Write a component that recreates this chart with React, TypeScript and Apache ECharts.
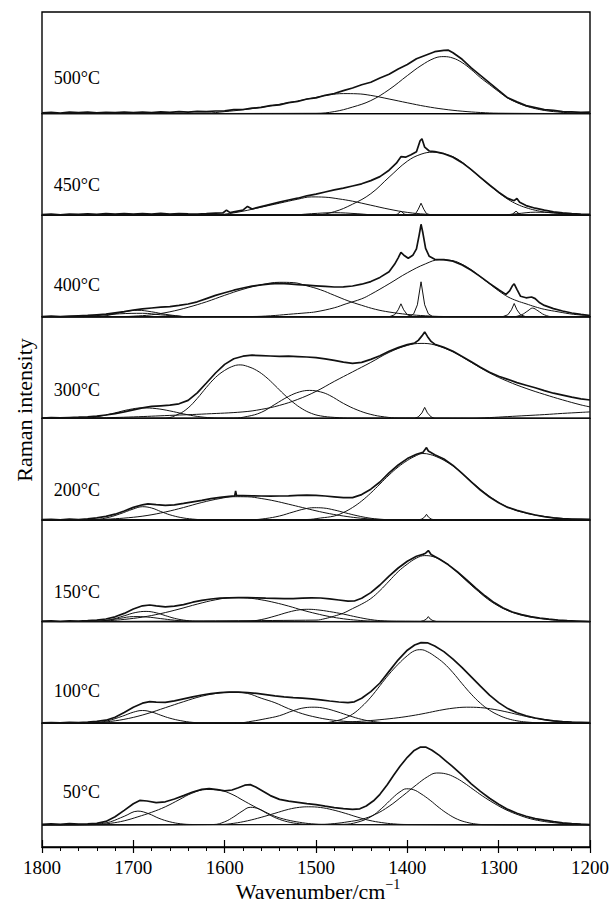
import React, { useEffect, useRef } from "react";
import * as echarts from "echarts";

type Pt = [number, number];

const FONT = "'Liberation Serif', 'Times New Roman', Times, serif";

const panelLabels = ["500°C", "450°C", "400°C", "300°C", "200°C", "150°C", "100°C", "50°C"];
const labelLift = [36, 30, 32, 28, 30, 30, 32, 33];
const xAxisTitle = "Wavenumber/cm";
const xAxisTitleSup = "\u22121";
const yAxisTitle = "Raman intensity";
const waveMin = 1200;
const waveMax = 1800;
const waveStep = 100;

// ---------- 500 °C ----------
const env500: Pt[] = [[1800,0.8],[1790,1.2],[1780,0.6],[1770,1.4],[1760,0.9],[1750,1.5],[1740,0.7],[1730,1.3],[1720,1.0],[1710,1.6],[1700,0.9],[1690,1.4],[1680,1.1],[1670,1.8],[1660,1.2],[1650,1.9],[1640,1.5],[1630,2.2],[1620,1.9],[1610,2.6],[1600,2.8],[1590,3.9],[1580,4.1],[1570,5.4],[1560,6.2],[1550,7.9],[1540,8.8],[1530,10.9],[1520,12.1],[1510,14.6],[1500,15.7],[1490,18.3],[1480,20.1],[1470,23.0],[1460,25.6],[1450,28.8],[1440,31.3],[1430,35.6],[1420,39.3],[1410,44.7],[1400,49.1],[1390,54.9],[1380,58.4],[1370,61.9],[1360,63.3],[1355,63.4],[1350,60.8],[1340,54.3],[1330,45.7],[1320,38.3],[1310,30.7],[1300,23.2],[1290,15.8],[1280,11.7],[1270,8.0],[1260,6.0],[1250,4.0],[1240,3.2],[1230,2.0],[1220,1.8],[1210,1.2],[1200,1.4]];
const c500a: Pt[] = [[1500,0.3],[1480,2],[1460,6.5],[1440,13],[1420,24],[1400,38],[1385,48],[1370,55.5],[1360,57],[1350,55.5],[1340,51],[1330,44],[1320,36],[1310,29],[1300,22],[1290,15.5],[1280,11],[1270,7.5],[1260,5],[1250,3.2],[1240,2],[1225,1],[1210,0.4],[1200,0.2]];
const c500b: Pt[] = [[1620,0.5],[1600,2],[1580,3.8],[1560,6.3],[1540,9.3],[1520,12.7],[1500,16.2],[1485,18.8],[1470,20],[1455,19.8],[1440,18.2],[1420,14.6],[1400,10.8],[1380,7.2],[1360,4.4],[1340,2.4],[1320,1.1],[1300,0.4]];

// ---------- 450 °C ----------
const env450: Pt[] = [[1800,0.6],[1790,1.0],[1780,0.4],[1770,1.2],[1760,0.8],[1750,1.3],[1740,0.9],[1730,1.6],[1720,1.1],[1710,1.7],[1700,1.0],[1690,1.5],[1680,1.2],[1670,1.9],[1660,1.0],[1650,1.6],[1640,1.3],[1630,1.1],[1620,1.5],[1610,2.0],[1602,2.2],[1598,5.0],[1594,2.6],[1590,3.4],[1580,5.0],[1575,8.8],[1570,6.2],[1560,8.6],[1550,10.8],[1540,13.0],[1530,15.2],[1520,17.0],[1510,19.4],[1500,21.0],[1490,23.2],[1480,25.4],[1470,27.0],[1460,29.2],[1450,31.4],[1440,34.6],[1430,38.6],[1420,45.0],[1412,52.0],[1407,58.5],[1402,58.0],[1396,60.5],[1390,63.5],[1386,74.5],[1384,76.5],[1381,68.0],[1376,64.2],[1370,63.6],[1360,61.5],[1350,58.0],[1340,52.5],[1330,45.5],[1320,37.8],[1310,30.2],[1300,23.0],[1290,16.8],[1283,14.5],[1280,16.8],[1277,13.0],[1270,9.6],[1260,7.0],[1250,5.0],[1240,3.4],[1230,2.4],[1220,1.6],[1210,1.0],[1200,0.8]];
const c450a: Pt[] = [[1500,0.5],[1480,3.5],[1460,11],[1440,21.5],[1420,38],[1400,54],[1385,61],[1372,63],[1360,61.5],[1350,58.5],[1340,53],[1330,45.5],[1320,37.5],[1310,30],[1300,22.5],[1290,16],[1280,11],[1270,7.5],[1260,5],[1250,3.2],[1240,2.2],[1225,1.2],[1210,0.5],[1200,0.3]];
const c450b: Pt[] = [[1610,0.3],[1600,1],[1580,4],[1560,8],[1540,12],[1520,16],[1505,18.3],[1490,18],[1475,16.3],[1460,14],[1440,10],[1420,6],[1400,2.8],[1380,1],[1360,0.3]];
const c450c: Pt[] = [[1396,0],[1391,1.5],[1388,6],[1385,12],[1382,6],[1379,1.5],[1374,0]];
const c450d: Pt[] = [[1415,0],[1411,1],[1407,4],[1403,1],[1399,0]];
const c450e: Pt[] = [[1290,0],[1285,1],[1281,4],[1277,1],[1272,0]];
const c450f: Pt[] = [[1530,0],[1505,1.5],[1480,2.5],[1455,1.5],[1430,0]];
const c450g: Pt[] = [[1300,0],[1280,1.5],[1260,3],[1240,2.5],[1220,1],[1205,0]];

// ---------- 400 °C ----------
const env400: Pt[] = [[1800,0.3],[1790,0.8],[1780,0.2],[1770,0.6],[1760,1.0],[1750,1.4],[1740,2.0],[1730,2.6],[1720,4.0],[1710,5.2],[1700,6.8],[1690,8.0],[1680,8.8],[1670,9.6],[1660,10.2],[1650,11.4],[1640,12.8],[1630,15.0],[1620,18.2],[1610,21.4],[1600,24.0],[1590,26.6],[1580,28.8],[1570,30.6],[1560,32.0],[1550,33.0],[1540,33.4],[1530,33.0],[1520,32.2],[1510,31.6],[1500,31.0],[1490,30.4],[1480,29.8],[1470,30.0],[1460,30.8],[1450,32.6],[1440,35.2],[1430,39.4],[1420,45.0],[1414,52.5],[1410,59.0],[1407,64.5],[1403,61.0],[1399,58.5],[1394,61.5],[1390,68.0],[1387,82.0],[1385,92.5],[1383,84.0],[1380,68.5],[1376,60.5],[1370,57.5],[1360,57.2],[1350,55.6],[1340,51.8],[1330,46.5],[1320,40.2],[1310,33.4],[1300,27.0],[1292,22.4],[1288,26.0],[1285,31.0],[1283,33.0],[1280,27.5],[1276,20.5],[1270,19.0],[1264,19.8],[1260,18.2],[1255,14.0],[1250,11.4],[1240,8.2],[1230,5.8],[1220,3.8],[1210,2.4],[1200,1.3]];
const c400a: Pt[] = [[1710,0.3],[1700,0.6],[1680,2],[1660,5],[1640,9.5],[1620,15],[1600,21.5],[1580,27.5],[1560,32],[1540,34.5],[1525,34.2],[1510,31],[1495,27],[1480,21.5],[1465,16],[1450,11.5],[1435,7.5],[1420,4.8],[1400,2.4],[1380,1],[1360,0.3]];
const c400b: Pt[] = [[1570,0.3],[1550,1],[1530,2.5],[1510,4],[1500,5],[1480,9],[1467,13],[1450,18],[1440,22.5],[1420,33],[1400,44],[1380,53],[1365,57],[1350,56],[1340,52.5],[1330,47],[1320,40],[1310,33],[1300,26],[1290,20],[1280,16],[1270,13],[1260,10],[1250,7.5],[1235,5],[1218,2.5],[1200,1.3]];
const c400c: Pt[] = [[1398,0],[1393,3],[1389,12],[1385,35],[1381,12],[1377,3],[1372,0]];
const c400d: Pt[] = [[1420,0],[1414,2],[1410,7],[1407,13],[1404,7],[1400,2],[1394,0]];
const c400e: Pt[] = [[1296,0],[1290,2],[1286,7],[1283,13.3],[1280,7],[1276,2],[1270,0]];
const c400f: Pt[] = [[1285,0],[1275,2],[1268,6],[1263,8.7],[1257,6],[1250,2],[1240,0]];
const c400g: Pt[] = [[1740,0],[1725,2],[1710,5],[1695,6.5],[1680,5],[1665,2.5],[1650,0.8],[1640,0]];
const c400h: Pt[] = [[1760,0],[1740,1.2],[1715,3],[1690,3.5],[1670,2],[1650,0.5],[1640,0]];

// ---------- 300 °C ----------
const env300: Pt[] = [[1800,0.4],[1790,0.7],[1780,0.5],[1770,0.9],[1760,1.2],[1750,1.6],[1740,2.2],[1730,3.4],[1720,4.8],[1710,6.6],[1700,8.6],[1690,10.6],[1680,12.0],[1670,12.6],[1660,13.2],[1650,14.6],[1640,18.0],[1630,25.6],[1620,35.4],[1610,45.4],[1600,54.0],[1590,59.6],[1580,62.2],[1570,63.2],[1560,62.8],[1550,62.4],[1540,62.0],[1530,62.2],[1520,61.8],[1510,61.4],[1500,60.8],[1490,59.6],[1480,58.0],[1470,56.2],[1460,55.0],[1450,56.0],[1440,59.0],[1430,62.6],[1420,67.2],[1410,70.8],[1400,73.8],[1392,75.4],[1388,78.0],[1384,82.5],[1381,86.5],[1378,82.0],[1374,77.0],[1370,74.2],[1360,71.0],[1350,67.2],[1340,62.0],[1330,56.6],[1320,51.2],[1310,46.2],[1300,42.2],[1290,39.0],[1280,35.8],[1270,33.2],[1260,30.6],[1250,27.8],[1240,25.2],[1230,23.2],[1220,21.2],[1210,19.6],[1200,18.4]];
const c300a: Pt[] = [[1665,0.3],[1650,4.5],[1640,10.5],[1630,20],[1620,31],[1610,41],[1600,48],[1590,52.5],[1583,53.5],[1575,52],[1565,48],[1555,41.5],[1545,33],[1535,24],[1525,16],[1515,9.5],[1505,5],[1495,2.5],[1480,1],[1460,0.3]];
const c300b: Pt[] = [[1590,0.3],[1575,2],[1560,6],[1545,14],[1530,22],[1518,26.5],[1507,28],[1495,26.5],[1485,23],[1470,15],[1455,8.5],[1440,4],[1425,1.5],[1410,0.4]];
const c300c: Pt[] = [[1800,0.2],[1740,0.5],[1700,1.5],[1660,3],[1620,4.5],[1580,6.5],[1560,9],[1540,13],[1520,19],[1500,27],[1480,37],[1460,46.5],[1440,56],[1420,66],[1400,73],[1385,75],[1370,73.5],[1350,66.5],[1330,56],[1310,45.5],[1290,37],[1270,30],[1250,24],[1230,18.5],[1210,13.5],[1200,11.5]];
const c300d: Pt[] = [[1750,0.3],[1735,2.5],[1720,5.5],[1705,8.8],[1690,10.5],[1675,9.8],[1660,7.5],[1645,4.5],[1630,2],[1615,0.6],[1600,0.2]];
const c300e: Pt[] = [[1330,0],[1310,0.8],[1290,1.8],[1270,2.8],[1250,3.8],[1230,5],[1210,6],[1200,6.5]];
const c300f: Pt[] = [[1392,0],[1388,1.5],[1384,5.5],[1381,11],[1378,5.5],[1374,1.5],[1370,0]];

// ---------- 200 °C ----------
const env200: Pt[] = [[1800,0.3],[1790,0.6],[1780,0.2],[1770,0.8],[1760,0.5],[1750,1.2],[1740,2.2],[1730,3.6],[1720,5.8],[1710,9.0],[1700,12.6],[1690,15.2],[1684,16.2],[1675,15.4],[1665,14.6],[1655,15.2],[1645,16.6],[1635,18.2],[1625,19.6],[1615,21.4],[1605,22.6],[1595,23.6],[1589,24.2],[1588,29.0],[1587,24.4],[1580,24.4],[1570,24.2],[1560,24.0],[1550,23.8],[1540,24.0],[1530,24.2],[1520,24.6],[1510,24.8],[1500,24.6],[1490,24.0],[1480,23.2],[1470,22.4],[1460,22.4],[1450,25.4],[1440,30.8],[1430,38.0],[1420,47.2],[1410,55.0],[1400,61.4],[1390,65.8],[1383,67.6],[1381,70.0],[1379,72.4],[1377,69.0],[1370,65.2],[1360,61.0],[1350,54.6],[1340,46.6],[1330,38.2],[1320,30.0],[1310,23.0],[1300,17.2],[1290,12.6],[1280,9.6],[1270,7.2],[1260,5.0],[1250,3.4],[1240,2.2],[1230,1.4],[1220,1.0],[1210,0.8],[1200,0.6]];
const c200a: Pt[] = [[1510,0.5],[1495,2],[1480,4],[1470,7.5],[1460,12.5],[1450,19],[1440,27],[1430,36],[1420,45],[1410,53],[1400,59.5],[1390,64.5],[1383,66.5],[1375,65.5],[1365,62],[1355,57],[1345,50.5],[1335,42.5],[1325,34.5],[1315,27],[1305,20.5],[1295,15],[1285,11],[1275,8],[1260,5],[1245,2.8],[1230,1.4],[1215,0.6],[1200,0.3]];
const c200b: Pt[] = [[1570,0.3],[1555,1.5],[1540,4],[1525,8],[1512,11.2],[1502,12.3],[1492,12],[1480,10],[1468,7.2],[1455,4.3],[1442,2],[1430,0.8],[1415,0.2]];
const c200c: Pt[] = [[1745,0.2],[1725,1],[1705,2.3],[1685,4.5],[1665,8],[1645,12.5],[1625,17.5],[1605,21.5],[1590,23.3],[1575,23.2],[1560,21.5],[1545,19],[1530,15.8],[1515,12.5],[1500,9.2],[1485,6.3],[1470,4],[1455,2.2],[1440,1],[1425,0.4]];
const c200d: Pt[] = [[1745,0.3],[1730,2],[1715,6],[1700,11],[1690,13.3],[1680,12],[1670,8.5],[1660,5.2],[1648,2.5],[1635,0.9],[1620,0.2]];
const c200e: Pt[] = [[1388,0],[1384,1],[1381,3],[1379,5.7],[1377,3],[1374,1],[1370,0]];

// ---------- 150 °C ----------
const env150: Pt[] = [[1800,0.4],[1790,0.8],[1780,0.3],[1770,0.7],[1760,0.5],[1750,0.9],[1740,1.5],[1730,2.6],[1720,4.8],[1710,8.2],[1700,12.6],[1690,15.8],[1682,16.6],[1675,15.8],[1665,14.8],[1655,15.4],[1645,17.0],[1635,19.4],[1625,21.2],[1615,22.6],[1605,23.4],[1595,23.8],[1585,24.0],[1575,24.0],[1565,23.8],[1555,23.4],[1545,23.2],[1535,23.0],[1525,23.0],[1515,23.4],[1505,23.8],[1495,23.6],[1485,22.8],[1475,21.6],[1465,20.4],[1458,20.6],[1450,23.4],[1440,29.0],[1430,36.6],[1420,45.4],[1410,53.6],[1400,60.4],[1390,65.4],[1383,67.2],[1380,68.4],[1377,71.0],[1374,67.0],[1365,62.6],[1355,56.8],[1345,49.6],[1335,41.6],[1325,33.4],[1315,25.8],[1305,19.0],[1295,13.6],[1285,9.6],[1275,7.0],[1265,5.0],[1255,3.6],[1245,2.4],[1235,1.6],[1225,1.0],[1215,0.6],[1205,0.2],[1200,0.0]];
const c150a: Pt[] = [[1500,1.5],[1490,3],[1480,5.5],[1470,8.5],[1460,13],[1450,17.5],[1440,23],[1430,31],[1420,40.5],[1410,50],[1400,57.5],[1390,63.5],[1381,66],[1372,65],[1362,61],[1352,54.5],[1342,46.5],[1332,38],[1322,30],[1312,22.5],[1302,16.5],[1292,11.8],[1282,8.3],[1272,5.8],[1260,3.7],[1245,2],[1230,1],[1215,0.4],[1200,0.2]];
const c150b: Pt[] = [[1575,0.3],[1560,2],[1545,5.5],[1530,9.5],[1518,11.8],[1508,12.3],[1498,11.7],[1485,10],[1470,7.5],[1455,4.5],[1440,2],[1425,0.6],[1410,0.2]];
const c150c: Pt[] = [[1740,0.2],[1725,1],[1710,2.2],[1690,4.5],[1670,8],[1650,12.5],[1630,17.5],[1610,21.8],[1592,24],[1575,23.6],[1560,21.8],[1545,19],[1530,15.5],[1515,11.5],[1500,8],[1485,5],[1470,2.8],[1455,1.4],[1440,0.6]];
const c150d: Pt[] = [[1740,0.3],[1725,2],[1710,5.8],[1698,9],[1686,10.2],[1675,8.8],[1665,6],[1655,3.3],[1645,1.5],[1632,0.4]];
const c150e: Pt[] = [[1750,0.2],[1730,1.2],[1715,3.2],[1700,5],[1685,4.6],[1670,3],[1655,1.4],[1640,0.4],[1625,0.1]];
const c150f: Pt[] = [[1386,0],[1382,1],[1379,2.6],[1377,5],[1375,2.6],[1372,1],[1368,0]];

// ---------- 100 °C ----------
const env100: Pt[] = [[1800,0.3],[1790,0.7],[1780,0.4],[1770,0.9],[1760,0.6],[1750,1.1],[1740,1.8],[1730,3.0],[1720,6.0],[1710,10.6],[1700,16.0],[1690,20.0],[1682,21.6],[1675,21.0],[1665,20.8],[1655,22.4],[1645,24.4],[1635,26.4],[1625,28.2],[1615,29.6],[1605,30.6],[1595,31.0],[1585,31.0],[1575,30.6],[1565,29.8],[1555,28.6],[1545,27.4],[1535,26.4],[1525,25.6],[1515,25.0],[1505,24.4],[1495,23.4],[1485,22.2],[1475,21.2],[1465,20.6],[1458,21.4],[1450,25.0],[1440,31.6],[1430,40.2],[1420,51.8],[1410,63.4],[1400,73.0],[1392,78.2],[1385,80.6],[1378,80.4],[1370,77.2],[1360,71.6],[1350,64.0],[1340,55.6],[1330,46.4],[1320,37.0],[1310,28.0],[1300,20.6],[1290,14.6],[1280,10.4],[1270,7.4],[1260,5.2],[1250,3.6],[1240,2.4],[1230,1.6],[1220,1.0],[1210,0.8],[1200,0.6]];
const c100a: Pt[] = [[1490,0.5],[1480,2],[1470,4.5],[1460,9],[1450,16.5],[1440,26],[1430,37.5],[1420,49],[1410,59],[1400,67.5],[1392,72.5],[1385,73.5],[1378,71.5],[1370,67],[1360,60],[1350,50.5],[1340,39.5],[1330,29],[1320,20],[1310,13],[1300,8],[1290,4.5],[1280,2.4],[1270,1.2],[1255,0.4]];
const c100b: Pt[] = [[1490,0.2],[1470,1],[1450,2],[1430,3.5],[1410,5.5],[1395,7.5],[1380,10],[1365,12.8],[1350,15],[1335,16],[1320,15.6],[1305,13.8],[1290,11],[1275,7.8],[1260,5],[1245,2.9],[1230,1.5],[1215,0.7],[1200,0.3]];
const c100c: Pt[] = [[1745,0.3],[1725,1.8],[1705,4.8],[1685,9.5],[1665,15.5],[1645,21.5],[1625,27],[1605,30.3],[1590,31],[1575,29.8],[1560,25],[1545,20.5],[1530,14.5],[1515,9.5],[1500,6],[1485,3.5],[1470,2],[1455,1],[1440,0.4]];
const c100d: Pt[] = [[1585,0.3],[1570,2],[1555,4.5],[1540,7.5],[1525,12.5],[1512,15.5],[1502,16],[1490,14.8],[1477,11.5],[1463,7.3],[1450,3.8],[1437,1.6],[1422,0.5]];
const c100e: Pt[] = [[1745,0.3],[1728,2.5],[1712,7],[1700,11],[1690,12.7],[1680,11.2],[1670,8],[1660,5],[1648,2.5],[1635,0.8],[1620,0.2]];

// ---------- 50 °C ----------
const env50: Pt[] = [[1800,0.4],[1790,1.0],[1780,0.5],[1770,1.2],[1760,0.7],[1750,1.0],[1740,1.4],[1730,3.4],[1720,8.0],[1710,14.4],[1700,21.0],[1693,24.4],[1685,23.8],[1675,22.2],[1665,23.0],[1655,25.8],[1645,29.2],[1635,32.8],[1625,35.4],[1617,36.2],[1608,35.2],[1600,34.0],[1592,34.8],[1585,37.0],[1578,39.6],[1572,40.2],[1566,37.8],[1558,33.6],[1550,29.2],[1540,25.4],[1530,23.6],[1520,22.4],[1510,21.2],[1500,20.2],[1490,18.6],[1480,17.2],[1470,16.2],[1460,15.4],[1452,16.0],[1445,18.8],[1437,24.0],[1430,30.5],[1422,40.0],[1415,49.5],[1408,58.5],[1400,67.5],[1393,74.0],[1386,77.6],[1380,77.8],[1373,74.6],[1365,69.4],[1358,64.0],[1351,58.6],[1340,49.6],[1330,41.0],[1320,33.4],[1310,26.6],[1300,20.6],[1290,15.4],[1280,11.6],[1270,8.6],[1260,6.2],[1250,4.6],[1240,3.2],[1230,2.0],[1220,1.2],[1210,0.6],[1200,0.2]];
const c50a: Pt[] = [[1495,0.3],[1480,1.2],[1465,3],[1450,5.5],[1435,10.5],[1420,18.5],[1405,29],[1390,40],[1378,48],[1368,51.8],[1358,51],[1348,47.5],[1338,42],[1328,35.5],[1318,29],[1305,21.5],[1292,15],[1278,9.8],[1265,6],[1250,3.3],[1235,1.7],[1220,0.8],[1205,0.3]];
const c50b: Pt[] = [[1470,0.5],[1455,2.5],[1440,8],[1428,16.5],[1416,27],[1408,33],[1401,36],[1393,35],[1385,31],[1375,24.5],[1365,17],[1355,10.5],[1345,5.5],[1335,2.5],[1325,0.8],[1315,0.2]];
const c50c: Pt[] = [[1740,0.3],[1725,1.5],[1710,4],[1695,8],[1680,12.5],[1665,18],[1650,25],[1636,31.5],[1620,35.3],[1605,34.5],[1592,30.5],[1580,24.5],[1568,18.5],[1556,13],[1545,8.5],[1532,5],[1518,2.5],[1505,1],[1490,0.3]];
const c50d: Pt[] = [[1745,0.3],[1735,1.2],[1725,3],[1710,8.5],[1695,13.7],[1683,11],[1672,6.5],[1660,3],[1648,1],[1635,0.3]];
const c50e: Pt[] = [[1612,0.3],[1600,3],[1590,8],[1581,13.5],[1572,17.5],[1563,16],[1553,11],[1543,6.5],[1531,3],[1518,1],[1505,0.3]];
const c50f: Pt[] = [[1605,0.3],[1590,1.5],[1575,4],[1560,7.5],[1545,11.5],[1530,15.5],[1518,17.5],[1508,18],[1495,17.3],[1482,15],[1468,11.5],[1455,7.8],[1442,4.5],[1428,2.2],[1415,0.9],[1400,0.3]];

const envelopes: Pt[][] = [env500, env450, env400, env300, env200, env150, env100, env50];
const broadComponents: Pt[][][] = [
  [c500a, c500b],
  [c450a, c450b, c450f, c450g],
  [c400a, c400b, c400f, c400g, c400h],
  [c300a, c300b, c300c, c300d, c300e],
  [c200a, c200b, c200c, c200d],
  [c150a, c150b, c150c, c150d, c150e],
  [c100a, c100b, c100c, c100d, c100e],
  [c50a, c50b, c50c, c50d, c50e, c50f],
];
const sharpComponents: Pt[][][] = [
  [],
  [c450c, c450d, c450e],
  [c400c, c400d, c400e],
  [c300f],
  [c200e],
  [c150f],
  [],
  [],
];

// extend a fitted band along the zero baseline to the ends of the axis
function alongBaseline(c: Pt[]): Pt[] {
  const out: Pt[] = [];
  if (c[0][0] < waveMax) out.push([waveMax, 0]);
  c.forEach((p) => out.push(p));
  if (c[c.length - 1][0] > waveMin) out.push([waveMin, 0]);
  return out;
}

export default function App() {
  const ref = useRef<HTMLDivElement>(null);

  useEffect(() => {
    if (!ref.current) return;
    const chart = echarts.init(ref.current, undefined, { renderer: "svg" });

    const left = 42;
    const width = 548;
    const top0 = 12;
    const ph = 101.6;
    const axisY = 847;
    const n = panelLabels.length;

    const grids: any[] = [];
    const xAxes: any[] = [];
    const yAxes: any[] = [];
    const series: any[] = [];
    const graphics: any[] = [];

    for (let i = 0; i < n; i++) {
      const top = top0 + i * ph;
      const last = i === n - 1;
      const h = last ? axisY - top : ph;
      grids.push({
        left,
        top,
        width,
        height: h,
        show: true,
        borderColor: "#000",
        borderWidth: 1.4,
        backgroundColor: "transparent",
      });
      xAxes.push({
        gridIndex: i,
        type: "value",
        min: waveMin,
        max: waveMax,
        interval: waveStep,
        inverse: true,
        show: last,
        axisLine: { show: true, onZero: false, lineStyle: { color: "#000", width: 1.4 } },
        axisTick: { show: true, inside: false, length: 6, lineStyle: { color: "#000", width: 1.2 } },
        minorTick: { show: true, splitNumber: 5, length: 4, lineStyle: { color: "#000", width: 1 } },
        axisLabel: {
          show: true,
          fontSize: 19,
          fontFamily: FONT,
          color: "#000",
          margin: 11,
          formatter: (v: number) => String(v),
        },
        splitLine: { show: false },
        minorSplitLine: { show: false },
      });
      yAxes.push({
        gridIndex: i,
        type: "value",
        show: false,
        min: last ? -(axisY - (top + ph)) : 0,
        max: ph,
        splitLine: { show: false },
      });

      const baseY = top + ph;
      graphics.push({
        type: "text",
        x: 100,
        y: baseY - labelLift[i],
        style: {
          text: panelLabels[i],
          font: `18px ${FONT}`,
          fill: "#000",
          align: "right",
          verticalAlign: "middle",
        },
      });

      series.push({
        type: "line",
        xAxisIndex: i,
        yAxisIndex: i,
        data: envelopes[i],
        showSymbol: false,
        smooth: false,
        lineStyle: { color: "#111", width: 1.7 },
        z: 3,
      });
      broadComponents[i].forEach((c) =>
        series.push({
          type: "line",
          xAxisIndex: i,
          yAxisIndex: i,
          data: alongBaseline(c),
          showSymbol: false,
          smooth: 0.4,
          lineStyle: { color: "#111", width: 1 },
          z: 2,
        })
      );
      sharpComponents[i].forEach((c) =>
        series.push({
          type: "line",
          xAxisIndex: i,
          yAxisIndex: i,
          data: alongBaseline(c),
          showSymbol: false,
          smooth: false,
          lineStyle: { color: "#111", width: 1 },
          z: 2,
        })
      );
    }

    // inner major ticks on the bottom axis
    xAxes.push({
      gridIndex: n - 1,
      type: "value",
      min: waveMin,
      max: waveMax,
      interval: waveStep,
      inverse: true,
      position: "bottom",
      axisLine: { show: false, onZero: false },
      axisTick: { show: true, inside: true, length: 7, lineStyle: { color: "#000", width: 1.2 } },
      axisLabel: { show: false },
      splitLine: { show: false },
    });

    graphics.push({
      type: "text",
      x: 24,
      y: 410,
      rotation: Math.PI / 2,
      style: {
        text: yAxisTitle,
        font: `22px ${FONT}`,
        fill: "#000",
        align: "center",
        verticalAlign: "middle",
      },
    });
    graphics.push({
      type: "text",
      x: 318,
      y: 891,
      style: {
        text: `{a|${xAxisTitle}}{b|${xAxisTitleSup}}`,
        align: "center",
        verticalAlign: "middle",
        rich: {
          a: { fontSize: 22, fontFamily: FONT, fill: "#000", lineHeight: 28 },
          b: { fontSize: 14, fontFamily: FONT, fill: "#000", lineHeight: 14, verticalAlign: "top" },
        },
      },
    });

    chart.setOption({
      animation: false,
      backgroundColor: "#fff",
      grid: grids,
      xAxis: xAxes,
      yAxis: yAxes,
      series,
      graphic: graphics,
    });

    return () => chart.dispose();
  }, []);

  return (
    <div
      ref={ref}
      style={{ position: "fixed", left: 0, top: 0, width: 615, height: 915 }}
    />
  );
}
